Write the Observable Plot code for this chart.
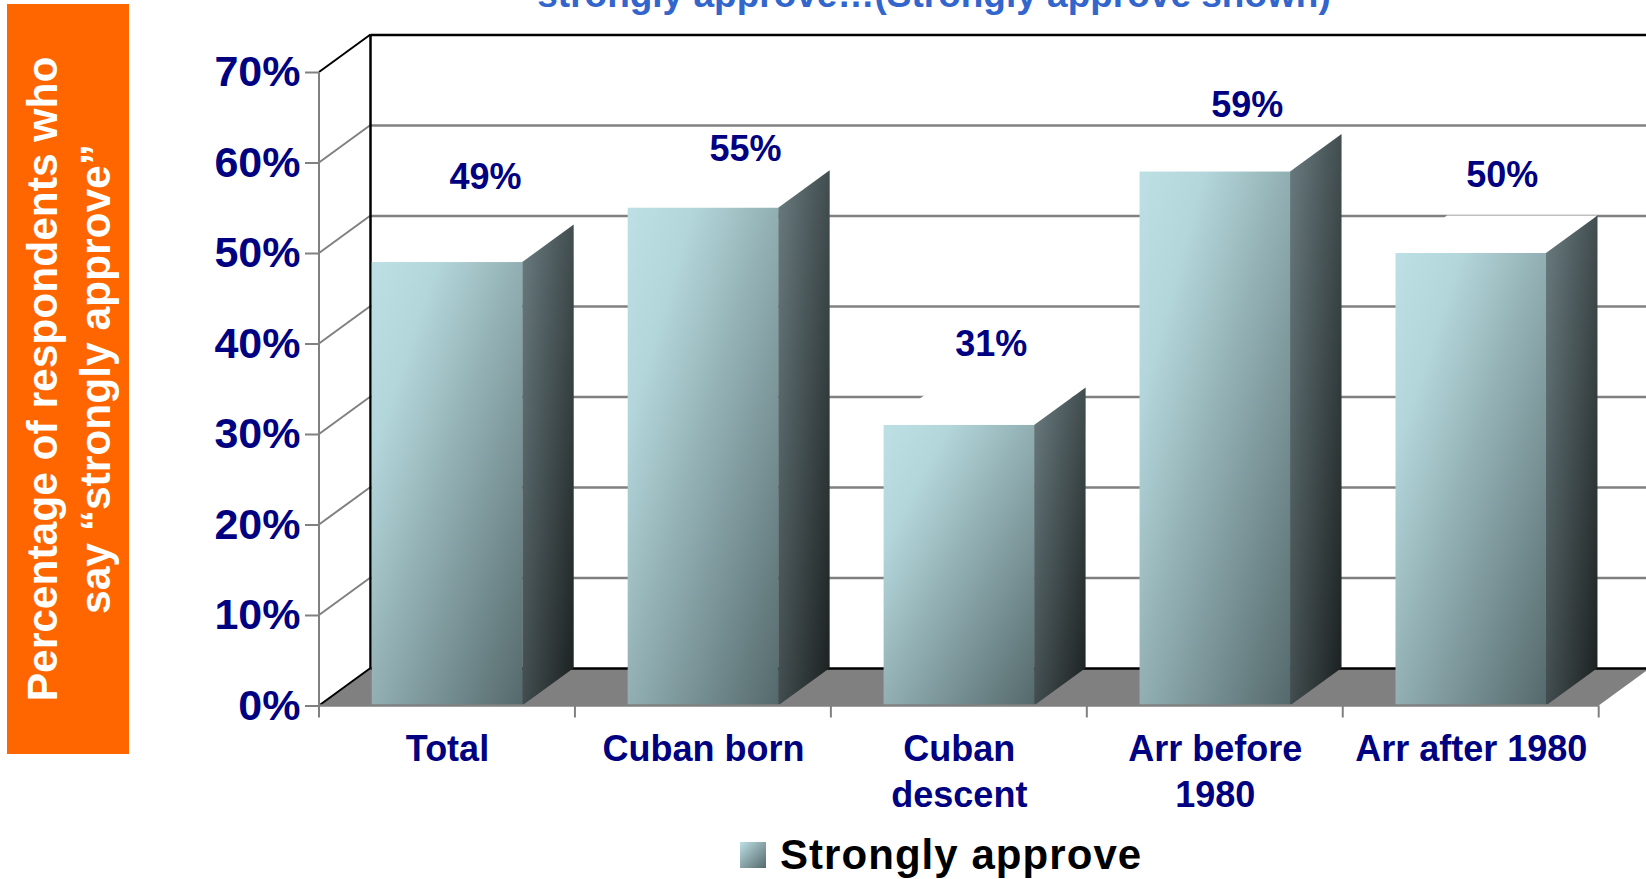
<!DOCTYPE html>
<html><head><meta charset="utf-8">
<script src="https://cdn.jsdelivr.net/npm/d3@7"></script>
<script src="https://cdn.jsdelivr.net/npm/@observablehq/plot@0.6"></script>
<style>
html,body{margin:0;padding:0;background:#fff;width:1646px;height:879px;overflow:hidden;font-family:"Liberation Sans",Arial,sans-serif;}
#wrap{position:relative;width:1646px;height:879px;overflow:hidden;}
#chart{position:absolute;left:0;top:0;}
#title{position:absolute;left:334px;width:1200px;top:-23px;text-align:center;font-weight:700;font-size:37px;line-height:36px;color:#3366cc;white-space:nowrap;}
#side{position:absolute;left:7px;top:4px;width:122px;height:750px;background:#ff6600;color:#fff;font-weight:700;font-size:42.5px;line-height:53px;}
#side span{position:absolute;left:62px;top:375px;transform:translate(-50%,-50%) rotate(-90deg);white-space:nowrap;text-align:center;display:block;}
#legend{position:absolute;left:740px;top:833px;height:44px;display:flex;align-items:center;font-weight:700;font-size:42px;letter-spacing:1.05px;color:#000;white-space:nowrap;}
#legend i{display:block;width:26px;height:26px;margin-right:14px;background:linear-gradient(135deg,#bde0e5,#55696c);}
</style></head><body>
<div id="wrap">
<div id="title">strongly approve…(Strongly approve shown)</div>
<div id="side"><span>Percentage of respondents who<br>say “strongly approve”</span></div>
<div id="chart"></div>
<div id="legend"><i></i><span>Strongly approve</span></div>
</div>
<script>
const categories = ["Total","Cuban born","Cuban descent","Arr before 1980","Arr after 1980"];
const tickLabels = ["Total","Cuban born","Cuban\ndescent","Arr before\n1980","Arr after 1980"];
const values = [49,55,31,59,50];
const valueLabels = ["49%","55%","31%","59%","50%"];
const yTicks = [0,10,20,30,40,50,60,70];

// layout only: hand-placed label offsets and 3D depth, in pixels
const labelDx = [38,42,32,32,31];
const labelDy = [-85,-59,-81,-67,-78];
const depthX = 51.5, depthY = 37.5;

const navy = "#000080", grid = "#808080";
const data = categories.map((c,i)=>({c, v:values[i], label:valueLabels[i], dx:labelDx[i], dy:labelDy[i], tick:tickLabels[i]}));

const svgEl = (n,a={})=>{const e=document.createElementNS("http://www.w3.org/2000/svg",n);for(const k in a)e.setAttribute(k,a[k]);return e;};
const poly = (pts,a)=>svgEl("polygon",{points:pts.map(p=>p.join(",")).join(" "),...a});
const seg = (x1,y1,x2,y2,stroke,w)=>svgEl("line",{x1,y1,x2,y2,stroke,"stroke-width":w});

function defsMark(){
  const d=svgEl("defs");
  const g=(id,stops)=>{const l=svgEl("linearGradient",{id,x1:0,y1:0,x2:1,y2:1});
    stops.forEach(([o,c])=>l.appendChild(svgEl("stop",{offset:o,"stop-color":c})));d.appendChild(l);};
  g("frontGrad",[[0,"#bde0e5"],[0.22,"#b3d6da"],[1,"#55696c"]]);
  g("sideGrad",[[0,"#6a7c80"],[1,"#1a1f1f"]]);
  return d;
}
// floor and the left wall/back frame, from the scales
function floorMark(i,s){
  const g=svgEl("g");
  const x0=s.x.range()[0], x1=s.x.range()[1], y0=s.y(0);
  g.appendChild(poly([[x0,y0],[x0+depthX,y0-depthY],[x1+depthX,y0-depthY],[x1,y0]],{fill:"#808080"}));
  return g;
}
function wallMark(i,s){
  const g=svgEl("g");
  const x0=s.x.range()[0], y0=s.y(0), yT=s.y(70);
  for(const t of yTicks.slice(1,-1)) g.appendChild(seg(x0,s.y(t),x0+depthX,s.y(t)-depthY,grid,2));
  g.appendChild(seg(x0,yT,x0+depthX,yT-depthY,"#000",2));
  g.appendChild(seg(x0,y0,x0+depthX,y0-depthY,"#000",2));
  g.appendChild(seg(x0+depthX,yT-depthY,x0+depthX,y0-depthY,"#000",2.5));
  return g;
}
// side and top faces of each column
function facesMark(i,s){
  const g=svgEl("g");
  const bw=s.x.bandwidth(), y0=s.y(0);
  for(const d of data){
    const xr=s.x(d.c)+bw, xl=s.x(d.c), yv=s.y(d.v);
    g.appendChild(poly([[xl,yv],[xl+depthX,yv-depthY],[xr+depthX,yv-depthY],[xr,yv]],{fill:"#fff"}));
    g.appendChild(poly([[xr,yv],[xr+depthX,yv-depthY],[xr+depthX,y0-depthY],[xr,y0]],{fill:"url(#sideGrad)"}));
  }
  return g;
}
function frontAxisMark(i,s){
  const g=svgEl("g");
  const x0=s.x.range()[0], x1=s.x.range()[1], y0=s.y(0), yT=s.y(70);
  g.appendChild(seg(x0,yT,x0,y0,grid,2));
  g.appendChild(seg(x0,y0,x1,y0,grid,2.5));
  const st=s.x.step();
  for(let k=0;k<=categories.length;k++) g.appendChild(seg(x0+k*st,y0,x0+k*st,y0+12,grid,2));
  return g;
}

const plot = Plot.plot({
  width:1646,height:879,
  marginLeft:319,marginRight:47.3,marginTop:72,marginBottom:173.5,
  style:{background:"transparent",overflow:"hidden",fontFamily:'"Liberation Sans",Arial,sans-serif'},
  x:{domain:categories,paddingInner:0.412,paddingOuter:0.206,round:false,label:null},
  y:{domain:[0,70],label:null},
  marks:[
    defsMark,
    floorMark,
    Plot.ruleY(yTicks,{stroke:d=>d===70||d===0?"#000":grid,strokeWidth:2.5,dx:depthX,dy:-depthY}),
    wallMark,
    facesMark,
    Plot.barY(data,{x:"c",y:"v",fill:"url(#frontGrad)"}),
    frontAxisMark,
    Plot.axisY({ticks:yTicks,tickFormat:d=>d+"%",stroke:grid,strokeWidth:2,fill:navy,fontSize:43,fontWeight:700,tickSize:14,tickPadding:5,label:null}),
    Plot.axisX({tickSize:0,tickPadding:22,tickFormat:c=>tickLabels[categories.indexOf(c)],fill:navy,fontSize:36,fontWeight:700,lineHeight:1.28,lineAnchor:"top",label:null}),
    ...data.map(d=>Plot.text([d],{x:"c",y:"v",text:"label",dx:d.dx,dy:d.dy,fill:navy,fontSize:36,fontWeight:700}))
  ]
});
document.getElementById("chart").appendChild(plot);
</script>
</body></html>
